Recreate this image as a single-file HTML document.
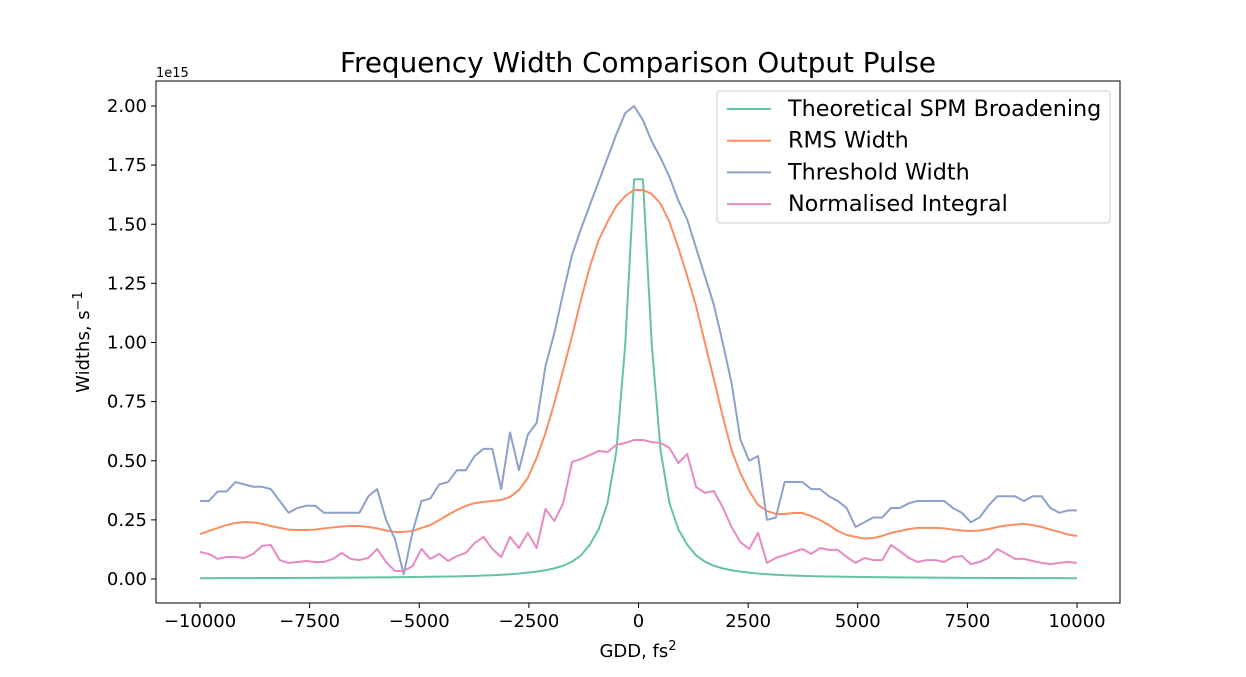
<!DOCTYPE html>
<html><head><meta charset="utf-8"><style>
body{margin:0;background:#fff;}
svg{display:block;font-family:"DejaVu Sans","Liberation Sans",sans-serif;}
</style></head><body>
<svg id="chart" width="1246" height="677" xmlns="http://www.w3.org/2000/svg">
<rect width="1246" height="677" fill="#fff"/>
<text x="638" y="72" font-size="27.8" text-anchor="middle">Frequency Width Comparison Output Pulse</text>
<text x="156" y="77" font-size="13">1e15</text>
<g id="ticks"></g>
<g id="series"></g>
<rect x="156" y="81" width="964" height="522" fill="none" stroke="#000" stroke-width="1"/>
<text x="638" y="657" font-size="18" text-anchor="middle">GDD, fs<tspan dy="-7" font-size="13">2</tspan></text>
<text transform="translate(89,342) rotate(-90)" font-size="18" text-anchor="middle">Widths, s<tspan dy="-7" font-size="13">−1</tspan></text>
<g id="legend">
<rect x="717" y="91" width="393" height="132" rx="3" fill="#fff" fill-opacity="0.8" stroke="#ccc"/>
</g>
</svg>
<script>
const categories = ["Theoretical SPM Broadening","RMS Width","Threshold Width","Normalised Integral"];
const colors = ["#66c2a5","#fc8d62","#8da0cb","#e78ac3"];
const xTicks = [-10000,-7500,-5000,-2500,0,2500,5000,7500,10000];
const xTickLabels = ["−10000","−7500","−5000","−2500","0","2500","5000","7500","10000"];
const yTicks = [0,0.25,0.5,0.75,1.0,1.25,1.5,1.75,2.0];
const yTickLabels = ["0.00","0.25","0.50","0.75","1.00","1.25","1.50","1.75","2.00"];
const greenHalf = [1.69,0.99,0.54,0.32,0.21,0.145,0.10,0.073,0.056,0.045,0.037,0.031,0.027,0.023,0.020,0.018,0.016,0.015,0.013,0.012,0.011,0.0105,0.0099,0.0093,0.0088,0.0083,0.0079,0.0075,0.0071,0.0068,0.0065,0.0062,0.0059,0.0057,0.0054,0.0052,0.005,0.0048,0.0047,0.0045,0.0043,0.0042,0.0041,0.0039,0.0038,0.0037,0.0036,0.0035,0.0034,0.0033];
const theoretical = greenHalf.slice().reverse().concat(greenHalf);
const rmsWidth = [0.190,0.203,0.216,0.228,0.237,0.241,0.239,0.233,0.224,0.216,0.209,0.207,0.207,0.209,0.214,0.218,0.222,0.224,0.224,0.220,0.214,0.205,0.199,0.199,0.203,0.216,0.228,0.249,0.271,0.292,0.309,0.321,0.326,0.330,0.334,0.347,0.376,0.427,0.512,0.617,0.744,0.884,1.027,1.180,1.319,1.433,1.510,1.577,1.619,1.645,1.645,1.628,1.586,1.510,1.400,1.281,1.154,0.998,0.846,0.689,0.545,0.448,0.372,0.313,0.288,0.275,0.275,0.279,0.279,0.266,0.249,0.228,0.203,0.186,0.178,0.171,0.173,0.182,0.195,0.203,0.211,0.216,0.216,0.216,0.214,0.209,0.205,0.203,0.205,0.211,0.220,0.226,0.230,0.233,0.228,0.220,0.209,0.199,0.188,0.182];
const thresholdWidth = [0.33,0.33,0.37,0.37,0.41,0.40,0.39,0.39,0.38,0.33,0.28,0.30,0.31,0.31,0.28,0.28,0.28,0.28,0.28,0.35,0.38,0.25,0.17,0.02,0.20,0.33,0.34,0.40,0.41,0.46,0.46,0.52,0.55,0.55,0.38,0.62,0.46,0.61,0.66,0.90,1.04,1.21,1.37,1.48,1.58,1.68,1.78,1.88,1.97,2.00,1.94,1.85,1.78,1.70,1.60,1.52,1.40,1.28,1.16,1.00,0.83,0.59,0.50,0.52,0.25,0.26,0.41,0.41,0.41,0.38,0.38,0.35,0.33,0.30,0.22,0.24,0.26,0.26,0.30,0.30,0.32,0.33,0.33,0.33,0.33,0.30,0.28,0.24,0.26,0.31,0.35,0.35,0.35,0.33,0.35,0.35,0.30,0.28,0.29,0.29];
const normalisedIntegral = [0.114,0.106,0.085,0.093,0.093,0.089,0.106,0.140,0.144,0.080,0.068,0.072,0.076,0.072,0.072,0.085,0.110,0.085,0.080,0.089,0.127,0.072,0.034,0.034,0.055,0.127,0.085,0.106,0.076,0.097,0.110,0.152,0.178,0.127,0.093,0.178,0.131,0.195,0.131,0.296,0.245,0.321,0.495,0.507,0.524,0.541,0.537,0.567,0.575,0.588,0.588,0.579,0.575,0.554,0.490,0.529,0.389,0.364,0.372,0.304,0.220,0.156,0.127,0.195,0.068,0.089,0.101,0.114,0.127,0.106,0.131,0.123,0.123,0.093,0.068,0.089,0.080,0.080,0.144,0.118,0.089,0.072,0.080,0.080,0.072,0.093,0.097,0.063,0.072,0.089,0.127,0.106,0.085,0.085,0.076,0.068,0.063,0.068,0.072,0.068];
const seriesList = [theoretical, rmsWidth, thresholdWidth, normalisedIntegral];
const seriesNames = ["theoretical-spm-line","rms-width-line","threshold-width-line","normalised-integral-line"];

const NS = "http://www.w3.org/2000/svg";
const xMin=-10000, xMax=10000;
function xScale(v){ return 200 + (v - xMin) / (xMax - xMin) * 877; }
function yScale(v){ return 579 - v * 236.5; }
function mk(tag, attrs){ const e=document.createElementNS(NS,tag); for(const k in attrs) e.setAttribute(k, attrs[k]); return e; }

const tg = document.getElementById('ticks');
xTicks.forEach((t,i)=>{
  const x = xScale(t);
  const l = mk('line',{x1:x,x2:x,y1:603,y2:608,stroke:'#000'});
  
  
  tg.appendChild(l);
  const tx = mk('text',{x:x,y:627,'font-size':18,'text-anchor':'middle'});
  tx.textContent = xTickLabels[i];
  
  
  tg.appendChild(tx);
});
yTicks.forEach((t,i)=>{
  const y = yScale(t);
  const l = mk('line',{x1:151,x2:156,y1:y,y2:y,stroke:'#000'});
  
  
  tg.appendChild(l);
  const tx = mk('text',{x:147,y:y+6,'font-size':18,'text-anchor':'end'});
  tx.textContent = yTickLabels[i];
  
  
  tg.appendChild(tx);
});

const sg = document.getElementById('series');
seriesList.forEach((arr, s)=>{
  const n = arr.length;
  const pts = arr.map((v,i)=>{
    const gdd = xMin + (xMax - xMin) * i / (n - 1);
    return xScale(gdd).toFixed(2) + ',' + yScale(v).toFixed(2);
  }).join(' ');
  const pl = mk('polyline',{points:pts,fill:'none',stroke:colors[s],'stroke-width':2,'stroke-linejoin':'round'});
  
  
  sg.appendChild(pl);
});

const lg = document.getElementById('legend');
categories.forEach((c,i)=>{
  const y = 109 + i * 31.7;
  const l = mk('line',{x1:727,x2:771,y1:y,y2:y,stroke:colors[i],'stroke-width':2});
  
  
  lg.appendChild(l);
  const t = mk('text',{x:788,y:y+7,'font-size':22.3});
  t.textContent = c;
  
  
  lg.appendChild(t);
});
</script>
</body></html>
